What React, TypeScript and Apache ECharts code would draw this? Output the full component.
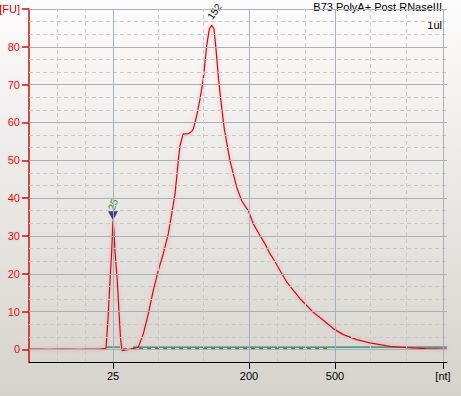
import React, { useEffect, useRef } from "react";
import * as echarts from "echarts";

// migration time (arbitrary units across the run) and fluorescence [FU]
const fuTime = [
  0, 10, 20, 30, 40, 50, 60, 70, 77, 79, 81, 82.7, 84, 85, 86, 88.3, 90, 91.5, 93, 96, 100,
  104.3, 109.3, 114.3, 119.3, 124.3, 129.3, 134.3, 139.3, 142.7, 146, 147.7, 149.3, 151,
  154.3, 159.3, 162.7, 164.3, 166, 167.7, 171, 174.3, 176, 177.7, 180.3, 182.7, 185, 187,
  189.3, 191, 193.3, 195.3, 197.7, 201, 204.3, 207.7, 212.7, 219.3, 224.3, 231, 236, 241,
  245.3, 258, 271, 277.7, 284.3, 294.3, 304.3, 314.3, 327.7, 341, 361, 377.7, 396, 418,
];
const fuSignal = [
  0.05, 0.1, 0, 0.1, 0.05, 0, 0.1, 0.05, 0.3, 8, 18, 26, 34, 31, 26, 18, 10, 3, -0.3, -0.2, 0,
  0.2, 0.6, 4.1, 9.4, 15.6, 20.9, 25.3, 30.6, 35.8, 41.1, 45.5, 49.9, 53.9,
  57.0, 57.0, 57.6, 58.3, 60.0, 61.8, 66.2, 71.5, 75.9, 80.3, 84.7, 85.7, 84.7, 79.4,
  72.3, 67.9, 62.6, 58.3, 54.7, 49.9, 46.4, 42.9, 39.3, 36.7, 33.2, 30.1, 27.9, 25.3,
  23.5, 17.7, 13.4, 11.6, 9.8, 7.7, 5.5, 3.9, 2.6, 1.7, 0.8, 0.5, 0.2, 0.1,
];

// ladder (size) positions on the time axis
const ladderTime = [84, 220, 306, 414];
const ladderLabels = ["25", "200", "500", "[nt]"];
const minorTime = [28, 56, 129.3, 174.3, 248.3, 276.3, 341.7, 377.7];

// y axis
const yMin = -10 / 3;
const yMax = 90;
const yMajor = [0, 10, 20, 30, 40, 50, 60, 70, 80, 90];
const yMinor = [
  3.333, 6.667, 13.333, 16.667, 23.333, 26.667, 33.333, 36.667, 43.333, 46.667, 53.333,
  56.667, 63.333, 66.667, 73.333, 76.667, 83.333, 86.667,
];

// peaks
const peakTime = [84, 182.7];
const peakValue = [34, 85.7];
const peakLabels = ["25", "152"];

// baselines
const lowerMarkerBaseline = [[77, 0.6], [91, 0.6]];
const mainBaseline = [[104, 0.6], [418, 0.6]];
const dashedBaseline = [[94, 0.15], [298, 0.15]];

const titleText = "B73 PolyA+ Post RNaseIII";
const subText = "1ul";

const FONT = "Liberation Sans";

export default function App() {
  const ref = useRef<HTMLDivElement>(null);
  useEffect(() => {
    if (!ref.current) return;
    const chart = echarts.init(ref.current, null, { renderer: "svg" });
    const curve = fuTime.map((t, i) => [t, fuSignal[i]]);
    const gridLines: any[] = [
      ...yMajor.map((v) => ({ yAxis: v, lineStyle: { color: "#aab0bb", type: "solid", width: 1 } })),
      ...yMinor.map((v) => ({ yAxis: v, lineStyle: { color: "#c8c8c8", type: [4, 3], width: 1 } })),
      ...ladderTime.map((t) => ({ xAxis: t, lineStyle: { color: "#aab0bb", type: "solid", width: 1 } })),
      ...minorTime.map((t) => ({ xAxis: t, lineStyle: { color: "#c8c8c8", type: [4, 3], width: 1 } })),
    ];
    const option: any = {
      animation: false,
      backgroundColor: new echarts.graphic.LinearGradient(0, 0, 0, 1, [
        { offset: 0, color: "#fdfcfc" },
        { offset: 1, color: "#d6d3cd" },
      ]),
      grid: { left: 29, right: 14, top: 9, bottom: 34, containLabel: false, outerBoundsMode: "none" },
      xAxis: {
        type: "value",
        min: 0,
        max: 418,
        axisLine: { show: true, onZero: false, lineStyle: { color: "#000", width: 1 } },
        axisTick: { show: true, customValues: ladderTime, length: 7, lineStyle: { color: "#000" } },
        axisLabel: {
          customValues: ladderTime,
          margin: 8,
          color: "#000",
          fontFamily: FONT,
          fontSize: 11,
          formatter: (v: number) => {
            const i = ladderTime.findIndex((t) => Math.abs(t - v) < 0.01);
            return i >= 0 ? ladderLabels[i] : "";
          },
        },
        splitLine: { show: false },
      },
      yAxis: {
        type: "value",
        min: yMin,
        max: yMax,
        axisLine: { show: true, onZero: false, lineStyle: { color: "#cc1111", width: 1.5 } },
        axisTick: { show: true, customValues: yMajor, length: 7, lineStyle: { color: "#cc1111", width: 1.5 } },
        axisLabel: {
          customValues: yMajor,
          margin: 9,
          color: "#cc1111",
          fontFamily: FONT,
          fontSize: 11,
          showMaxLabel: true,
          showMinLabel: true,
          textShadowColor: "rgba(255,140,140,0.7)",
          textShadowBlur: 2,
          formatter: (v: number) => (Math.abs(v - 90) < 0.01 ? "[FU]" : String(Math.round(v))),
        },
        splitLine: { show: false },
      },
      series: [
        {
          type: "line",
          z: 0,
          data: curve,
          symbol: "none",
          lineStyle: { opacity: 0 },
          silent: true,
          markLine: {
            silent: true,
            symbol: ["none", "none"],
            label: { show: false },
            data: gridLines,
          },
        },
        {
          type: "line",
          z: 1,
          data: lowerMarkerBaseline,
          symbol: "none",
          lineStyle: { color: "#2f7d62", width: 1.2 },
          areaStyle: { color: "#bfe2dc", opacity: 1 },
        },
        {
          type: "line",
          z: 1,
          data: mainBaseline,
          symbol: "none",
          lineStyle: { color: "#2f7d62", width: 1.2 },
          areaStyle: { color: "#bfe2dc", opacity: 1 },
        },
        {
          type: "line",
          z: 2,
          data: dashedBaseline,
          symbol: "none",
          lineStyle: { color: "#8b2222", width: 1.2, type: [4, 4] },
        },
        {
          type: "line",
          z: 3,
          data: curve,
          symbol: "none",
          lineStyle: {
            color: "#c4101a",
            width: 1.25,
            shadowColor: "rgba(255,110,110,0.65)",
            shadowBlur: 4,
          },
        },
        {
          type: "scatter",
          z: 4,
          data: [[peakTime[0], peakValue[0]]],
          symbol: "path://M0,0L10,0L5,9Z",
          symbolSize: [10, 9],
          symbolOffset: [0, -5],
          itemStyle: { color: "#12126e" },
        },
      ],
    };
    chart.setOption(option);

    const p0 = chart.convertToPixel({ gridIndex: 0 }, [peakTime[0], peakValue[0]]) as number[];
    const p1 = chart.convertToPixel({ gridIndex: 0 }, [peakTime[1], peakValue[1]]) as number[];
    chart.setOption({
      graphic: [
        {
          type: "text",
          right: 19,
          top: 1,
          style: { text: titleText, font: `11px "${FONT}"`, fill: "#000" },
        },
        {
          type: "text",
          right: 19,
          top: 19,
          style: { text: subText, font: `11px "${FONT}"`, fill: "#000" },
        },
        {
          type: "text",
          x: p0[0] - 2,
          y: p0[1] - 11,
          rotation: (70 * Math.PI) / 180,
          style: {
            text: peakLabels[0],
            font: `10px "${FONT}"`,
            fill: "#1f8a1f",
            align: "left",
            verticalAlign: "middle",
          },
        },
        {
          type: "text",
          x: p1[0] - 2,
          y: p1[1] - 7,
          rotation: (55 * Math.PI) / 180,
          style: {
            text: peakLabels[1],
            font: `10px "${FONT}"`,
            fill: "#000",
            align: "left",
            verticalAlign: "middle",
          },
        },
      ],
    });
    return () => chart.dispose();
  }, []);
  return <div ref={ref} style={{ position: "absolute", left: 0, top: 0, width: 461, height: 396 }} />;
}
